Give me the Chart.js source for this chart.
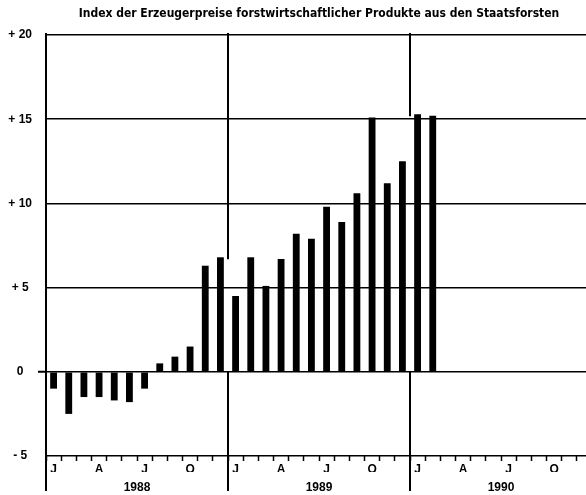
<!DOCTYPE html>
<html>
<head>
<meta charset="utf-8">
<script src="https://cdn.jsdelivr.net/npm/chart.js@4.4.1/dist/chart.umd.min.js"></script>
<style>
  html, body { margin: 0; padding: 0; background: #fff; overflow: hidden; }
  #wrap { width: 600px; height: 495px; }
</style>
</head>
<body>
<div id="wrap"><canvas id="myChart" width="600" height="495"></canvas></div>
<script>
// monthly change vs. previous year, in percent
const titleText = "Index der Erzeugerpreise forstwirtschaftlicher Produkte aus den Staatsforsten";
const years = ["1988", "1989", "1990"];
const monthLetters = ["J", "", "", "A", "", "", "J", "", "", "O", "", ""];
const months = [];
years.forEach(y => monthLetters.forEach((m, i) => months.push(y + "-" + (i + 1))));

const values = [
  -1.0, -2.5, -1.5, -1.5, -1.7, -1.8, -1.0, 0.5, 0.9, 1.5, 6.3, 6.8,   // 1988
  4.5, 6.8, 5.1, 6.7, 8.2, 7.9, 9.8, 8.9, 10.6, 15.1, 11.2, 12.5,      // 1989
  15.3, 15.2                                                          // 1990
];
const yTicks = [-5, 0, 5, 10, 15, 20];
const yTickLabels = {"-5": "- 5", "0": "0", "5": "+ 5", "10": "+ 10", "15": "+ 15", "20": "+ 20"};

const TITLE_FONT = '"DejaVu Sans Condensed", "DejaVu Sans", sans-serif';
const FONT = '"Liberation Sans", Arial, sans-serif';

// year separators, interrupted next to the bars like in the print
const yearLines = {
  id: 'yearLines',
  afterDatasetsDraw(chart) {
    const {ctx, chartArea, scales: {x, y}} = chart;
    const step = x.getPixelForValue(1) - x.getPixelForValue(0);
    const zero = y.getPixelForValue(0);
    ctx.save();
    ctx.strokeStyle = '#000';
    ctx.lineWidth = 2;
    for (let i = 0; i < years.length; i++) {
      const idx = i * 12;
      const px = Math.round(x.getPixelForValue(idx) - step / 2);
      let top = chartArea.top - 2;
      let bottom = chart.height - 4;
      ctx.beginPath();
      if (idx > 0) {
        const h = Math.max(values[idx - 1] ?? 0, values[idx] ?? 0, 0);
        const gapTop = y.getPixelForValue(h) + 2;
        ctx.moveTo(px, top); ctx.lineTo(px, gapTop);
        ctx.moveTo(px, zero); ctx.lineTo(px, bottom);
      } else {
        ctx.moveTo(px, top); ctx.lineTo(px, bottom);
      }
      ctx.stroke();
    }
    ctx.restore();
  }
};

const titlePlugin = {
  id: 'areaTitle',
  afterDraw(chart) {
    const {ctx, chartArea} = chart;
    ctx.save();
    ctx.font = 'bold 12px ' + TITLE_FONT;
    ctx.fillStyle = '#000';
    ctx.textAlign = 'center';
    ctx.textBaseline = 'middle';
    ctx.fillText(titleText, (chartArea.left + chartArea.right) / 2, 14);
    ctx.restore();
  }
};

const ctx = document.getElementById('myChart').getContext('2d');
new Chart(ctx, {
  type: 'bar',
  data: {
    labels: months,
    datasets: [{
      data: values,
      backgroundColor: '#000',
      borderWidth: 0,
      barPercentage: 0.45,
      categoryPercentage: 1
    }]
  },
  options: {
    responsive: false,
    animation: false,
    layout: { padding: { top: 35, right: 8, left: 0, bottom: 0 } },
    plugins: { legend: { display: false }, tooltip: { enabled: false }, title: { display: false } },
    scales: {
      x: {
        type: 'category',
        position: 'bottom',
        offset: true,
        border: { display: false },
        grid: {
          offset: true,
          drawOnChartArea: false,
          tickColor: '#000',
          tickLength: 5,
          tickWidth: 1.5
        },
        ticks: {
          autoSkip: false,
          maxRotation: 0,
          padding: 1,
          color: '#000',
          font: { family: FONT, weight: 'bold', size: 12 },
          callback: (v, i) => monthLetters[i % 12]
        },
        afterFit: s => { s.height = 16; }
      },
      x2: {
        type: 'category',
        position: 'bottom',
        labels: years,
        offset: true,
        border: { display: false },
        grid: { display: false },
        ticks: {
          maxRotation: 0,
          padding: 0,
          color: '#000',
          font: { family: FONT, weight: 'bold', size: 12 }
        },
        afterFit: s => { s.height = 23; }
      },
      y: {
        min: -5,
        max: 20,
        border: { display: false },
        afterBuildTicks: s => { s.ticks = yTicks.map(v => ({value: v})); },
        grid: {
          color: '#000',
          lineWidth: 1.5,
          tickLength: 8,
          tickColor: c => (c.tick && c.tick.value === 0) ? '#000' : 'rgba(0,0,0,0)',
          tickWidth: 2
        },
        ticks: {
          crossAlign: 'center',
          padding: 6,
          color: '#000',
          font: { family: FONT, weight: 'bold', size: 12 },
          callback: v => yTickLabels[String(v)]
        },
        afterFit: s => { s.width = 46; }
      }
    }
  },
  plugins: [yearLines, titlePlugin]
});
</script>
</body>
</html>
